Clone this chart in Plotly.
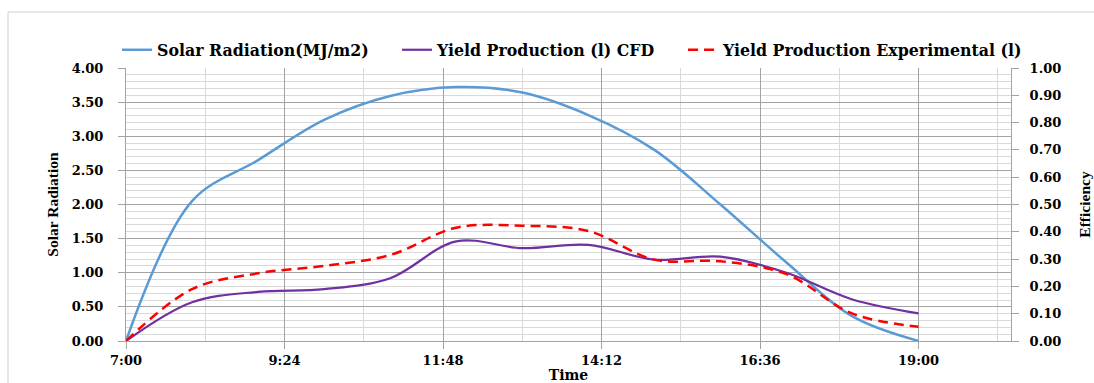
import plotly.graph_objects as go

# Hourly readings, 7:00 to 19:00
times = ["7:00", "8:00", "9:00", "10:00", "11:00", "12:00", "13:00",
         "14:00", "15:00", "16:00", "17:00", "18:00", "19:00"]
solar_radiation = [0.00, 2.05, 2.65, 3.24, 3.59, 3.72, 3.64,
                   3.31, 2.80, 2.00, 1.15, 0.36, 0.00]
yield_cfd = [0.00, 0.142, 0.180, 0.190, 0.230, 0.365, 0.340,
             0.352, 0.298, 0.309, 0.250, 0.152, 0.101]
yield_experimental = [0.00, 0.190, 0.248, 0.275, 0.315, 0.415, 0.422,
                      0.403, 0.298, 0.292, 0.245, 0.100, 0.052]
x_tick_labels = ["7:00", "9:24", "11:48", "14:12", "16:36", "19:00"]


def to_hours(label):
    h, m = label.split(":")
    return int(h) + int(m) / 60.0


x = [to_hours(t) for t in times]
x_ticks = [to_hours(t) for t in x_tick_labels]

FONT = "DejaVu Serif"
MAJOR_GRID = "#a3a3a3"
MINOR_GRID = "#d9d9d9"

fig = go.Figure()
fig.add_trace(go.Scatter(
    x=x, y=solar_radiation, name="Solar Radiation(MJ/m2)", mode="lines",
    legend="legend",
    line=dict(color="#5B9BD5", width=2.5, shape="spline", smoothing=1.0),
))
fig.add_trace(go.Scatter(
    x=x, y=yield_cfd, name="Yield Production (l) CFD", mode="lines", yaxis="y2",
    legend="legend2",
    line=dict(color="#7030A0", width=2.2, shape="spline", smoothing=1.0),
))
fig.add_trace(go.Scatter(
    x=x, y=yield_experimental, name="Yield Production Experimental (l)", mode="lines",
    yaxis="y2", legend="legend3",
    line=dict(color="#FF0000", width=2.5, dash="10px,6px", shape="spline", smoothing=1.0),
))

# plot area in pixels: x 126..1011, y 68..341
L, R, T, B = 126, 1011, 68, 341
W, H = 1094, 383


def px_x(p):
    return (p - L) / (R - L)


def px_y(p):
    return (B - p) / (B - T)


def legend_at(left_px):
    return dict(
        orientation="h", x=px_x(left_px), xanchor="left", y=px_y(50), yanchor="middle",
        font=dict(family=FONT, size=15.8, color="black", weight="bold"),
        bgcolor="rgba(0,0,0,0)", itemclick=False, itemdoubleclick=False,
    )


fig.update_layout(
    width=W, height=H,
    margin=dict(l=L, r=W - R, t=T, b=H - B, autoexpand=False),
    paper_bgcolor="white", plot_bgcolor="white",
    font=dict(family=FONT, size=13, color="black"),
    showlegend=True,
    legend=legend_at(117),
    legend2=legend_at(397),
    legend3=legend_at(683),
    xaxis=dict(
        range=[7, 20.4], tickvals=x_ticks, ticktext=x_tick_labels,
        automargin=False,
        showgrid=True, gridcolor=MAJOR_GRID, gridwidth=1,
        ticks="outside", ticklen=7, tickcolor=MAJOR_GRID,
        showline=True, linecolor=MAJOR_GRID, linewidth=1,
        zeroline=False,
        minor=dict(tick0=8.2, dtick=2.4, showgrid=True, gridcolor=MINOR_GRID,
                   gridwidth=1, ticks=""),
        tickfont=dict(family=FONT, size=13, weight="bold"),
        title=dict(text="<b>Time</b>", font=dict(family=FONT, size=14), standoff=4),
    ),
    yaxis=dict(
        range=[0, 4], dtick=0.5, tick0=0, tickformat=".2f",
        automargin=False,
        showgrid=True, gridcolor=MAJOR_GRID, gridwidth=1,
        ticks="outside", ticklen=7, tickcolor=MAJOR_GRID, ticklabelstandoff=12,
        showline=True, linecolor=MAJOR_GRID, linewidth=1,
        zeroline=False,
        minor=dict(dtick=0.1, showgrid=True, gridcolor=MINOR_GRID, gridwidth=1, ticks=""),
        tickfont=dict(family=FONT, size=13, weight="bold"),
        title=dict(text="<b>Solar Radiation</b>",
                   font=dict(family="Liberation Serif", size=15.5), standoff=9),
    ),
    yaxis2=dict(
        range=[0, 1], dtick=0.1, tick0=0, tickformat=".2f",
        automargin=False,
        overlaying="y", side="right", showgrid=False,
        ticks="outside", ticklen=7, tickcolor=MAJOR_GRID, ticklabelstandoff=8,
        showline=True, linecolor=MAJOR_GRID, linewidth=1,
        zeroline=False,
        tickfont=dict(family=FONT, size=13, weight="bold"),
        title=dict(text="<b>Efficiency</b>",
                   font=dict(family="Liberation Serif", size=15.5), standoff=18),
    ),
    shapes=[dict(
        type="rect", xref="paper", yref="paper", layer="below",
        x0=px_x(8), x1=px_x(1110), y0=px_y(400), y1=px_y(12),
        line=dict(color="#d0d0d0", width=1), fillcolor="rgba(0,0,0,0)",
    )],
)

fig.write_html("out.html")
